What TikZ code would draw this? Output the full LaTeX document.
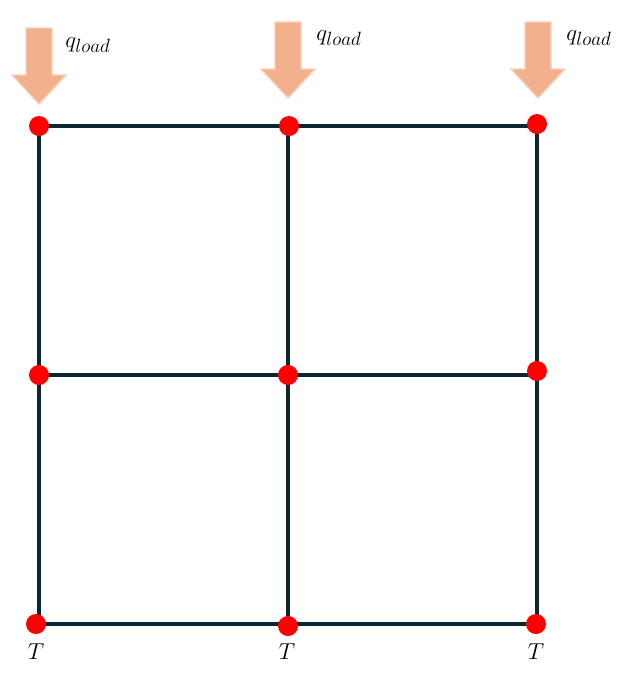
\documentclass[tikz,border=0pt]{standalone}
\usetikzlibrary{calc, positioning}
\definecolor{gridline}{RGB}{12,38,50}
\definecolor{loadfill}{RGB}{243,176,140}
\definecolor{loadedge}{RGB}{249,207,182}
\begin{document}
\begin{tikzpicture}[x=0.75pt,y=-0.75pt,
	every node/.style={inner sep=0pt,font=\fontsize{17}{20}\selectfont},
	dot/.style={circle,fill=red,minimum size=15pt},
	bar/.style={draw=gridline,line width=2.7pt},
	load/.style={fill=loadfill,draw=loadedge,line width=1pt},
	loadlabel/.style={anchor=west,font=\fontsize{19}{22}\selectfont}]
	\useasboundingbox (0,0) rectangle (632,687);
	% grid corners
	\coordinate (g00) at (39,126);
	\coordinate (g10) at (288,126);
	\coordinate (g20) at (537,126);
	\coordinate (g01) at (39,375);
	\coordinate (g11) at (288,375);
	\coordinate (g21) at (537,375);
	\coordinate (g02) at (39,624);
	\coordinate (g12) at (288,624);
	\coordinate (g22) at (537,624);
	\draw[bar] (g00) -- (g20) (g01) -- (g21) (g02) -- (g22);
	\draw[bar] (g00) -- (g02) (g10) -- (g12) (g20) -- (g22);
	% nodes
	\node[dot] (n00) at (39,126) {};
	\node[dot] (n10) at (289,126) {};
	\node[dot] (n20) at (537,124) {};
	\node[dot] (n01) at (39,375) {};
	\node[dot] (n11) at (288,375) {};
	\node[dot] (n21) at (537,371) {};
	\node[dot] (n02) at (36,624) {};
	\node[dot] (n12) at (288,626) {};
	\node[dot] (n22) at (536,624) {};
	% loads
	\coordinate (t0) at (39,104);
	\coordinate (t1) at (288,98);
	\coordinate (t2) at (538,98);
	\foreach \t in {t0,t1,t2}
		\draw[load] ($(\t)+(-13,-76)$) -- ($(\t)+(13,-76)$) -- ($(\t)+(13,-29)$) -- ($(\t)+(27,-29)$)
			-- (\t) -- ($(\t)+(-27,-29)$) -- ($(\t)+(-13,-29)$) -- cycle;
	\node[loadlabel] (q0) at (65,45) {$q_{load}$};
	\node[loadlabel] (q1) at (316,38) {$q_{load}$};
	\node[loadlabel] (q2) at (566,38) {$q_{load}$};
	% temperatures
	\node (T0) at (36,652) {$T$};
	\node (T1) at (287,652) {$T$};
	\node (T2) at (536,652) {$T$};
\end{tikzpicture}
\end{document}
